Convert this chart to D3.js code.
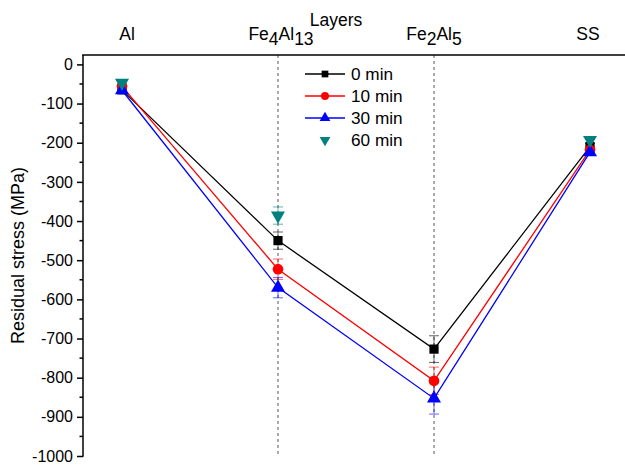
<!DOCTYPE html>
<html>
<head>
<meta charset="utf-8">
<script src="https://cdn.jsdelivr.net/npm/d3@7"></script>
<style>
  body { margin: 0; background: #fff; }
  text { font-family: "Liberation Sans", Arial, sans-serif; }
</style>
</head>
<body>
<svg id="chart" width="625" height="465"></svg>
<script>
// Layers across the joint
const layers = ["Al", "Fe4Al13", "Fe2Al5", "SS"];
// Axis labels with subscripts: [text, isSubscript]
const layerLabels = [
  [["Al", false]],
  [["Fe", false], ["4", true], ["Al", false], ["13", true]],
  [["Fe", false], ["2", true], ["Al", false], ["5", true]],
  [["SS", false]]
];
const seriesNames = ["0 min", "10 min", "30 min", "60 min"];
// Residual stress (MPa), null where not measured
const stress0 = [-65, -450, -727, -210];
const stress10 = [-56, -523, -808, -218];
const stress30 = [-66, -570, -853, -224];
const stress60 = [-47, -386, null, -193];
// Error bar half-widths (MPa)
const err0 = [8, 22, 34, 8];
const err10 = [8, 26, 35, 8];
const err30 = [8, 26, 40, 8];
const err60 = [8, 22, null, 8];
const yTicks = [0, -100, -200, -300, -400, -500, -600, -700, -800, -900, -1000];

const colors = ["#000000", "#ff0000", "#0000ff", "#008080"];
const shapes = [d3.symbolSquare, d3.symbolCircle, d3.symbolTriangle, "down"];
const drawLine = [true, true, true, false];
const values = [stress0, stress10, stress30, stress60];
const errs = [err0, err10, err30, err60];

const svg = d3.select("#chart");
const mLeft = 83, mTop = 55, mBottom = 456, mRight = 625;

const x = d3.scalePoint().domain(layers).range([122, 590]);
const y = d3.scaleLinear().domain([-1000, 24]).range([mBottom, mTop]);

// Dashed guides through the intermetallic layers
svg.selectAll("line.guide").data(["Fe4Al13", "Fe2Al5"]).enter().append("line")
  .attr("x1", d => x(d)).attr("x2", d => x(d))
  .attr("y1", mTop).attr("y2", mBottom)
  .attr("stroke", "#555").attr("stroke-width", 1).attr("stroke-dasharray", "3,3");

// Left axis with major and minor ticks
const yAxis = d3.axisLeft(y).tickValues(yTicks).tickFormat(d => String(d))
  .tickSize(6).tickSizeOuter(0).tickPadding(4);
const gy = svg.append("g").attr("transform", `translate(${mLeft},0)`).call(yAxis);
gy.select(".domain").remove();
gy.selectAll(".tick line").attr("stroke", "#000").attr("stroke-width", 1.5);
gy.selectAll(".tick text").attr("font-size", 16).attr("fill", "#000")
  .attr("font-family", "Liberation Sans, Arial, sans-serif");
const minor = d3.range(-950, 0, 100);
svg.append("g").selectAll("line").data(minor).enter().append("line")
  .attr("x1", mLeft - 3.5).attr("x2", mLeft)
  .attr("y1", d => y(d)).attr("y2", d => y(d))
  .attr("stroke", "#000").attr("stroke-width", 1.5);

// Frame: left and top edges
svg.append("line").attr("x1", mLeft).attr("x2", mLeft).attr("y1", mTop).attr("y2", y(-1000) + 0.75)
  .attr("stroke", "#000").attr("stroke-width", 1.5);
svg.append("line").attr("x1", mLeft - 0.75).attr("x2", mRight).attr("y1", mTop).attr("y2", mTop)
  .attr("stroke", "#000").attr("stroke-width", 1.5);

// Top category labels
const labelX = [127, 281, 434, 588];
layerLabels.forEach((parts, i) => {
  const t = svg.append("text").attr("x", labelX[i]).attr("y", 40)
    .attr("text-anchor", "middle").attr("font-size", 17.5).attr("fill", "#000");
  parts.forEach(([s, sub]) => {
    const ts = t.append("tspan").text(s);
    if (sub) ts.attr("baseline-shift", "-30%");
  });
});
svg.append("text").attr("x", 336).attr("y", 26).attr("text-anchor", "middle")
  .attr("font-size", 17.5).attr("fill", "#000").text("Layers");

// Y axis title
svg.append("text").attr("transform", `translate(24,${(mTop + mBottom) / 2}) rotate(-90)`)
  .attr("text-anchor", "middle").attr("font-size", 18).attr("fill", "#000")
  .text("Residual stress (MPa)");

function marker(g, shape, color, cx, cy, size) {
  if (shape === "down") {
    g.append("path").attr("d", d3.symbol(d3.symbolTriangle, size)())
      .attr("transform", `translate(${cx},${cy}) rotate(180)`).attr("fill", color);
  } else {
    g.append("path").attr("d", d3.symbol(shape, size)())
      .attr("transform", `translate(${cx},${cy})`).attr("fill", color);
  }
}
const sizes = [85, 90, 85, 85];
const legendSizes = [45, 50, 50, 50];

// Series: lines and error bars
values.forEach((vals, s) => {
  const g = svg.append("g");
  const pts = layers.map((l, i) => ({ l, v: vals[i], e: errs[s][i] })).filter(p => p.v !== null);
  if (drawLine[s]) {
    g.append("path").datum(pts)
      .attr("d", d3.line().x(p => x(p.l)).y(p => y(p.v)))
      .attr("fill", "none").attr("stroke", colors[s]).attr("stroke-width", 1.3);
  }
  pts.forEach(p => {
    const cx = x(p.l);
    const eg = g.append("g").attr("stroke", colors[s]).attr("stroke-width", 1).attr("opacity", 0.6);
    eg.append("line").attr("x1", cx).attr("x2", cx).attr("y1", y(p.v - p.e)).attr("y2", y(p.v + p.e));
    [p.v - p.e, p.v + p.e].forEach(v => eg.append("line")
      .attr("x1", cx - 5).attr("x2", cx + 5).attr("y1", y(v)).attr("y2", y(v)));
  });
});
// Markers on top
values.forEach((vals, s) => {
  const g = svg.append("g");
  layers.forEach((l, i) => {
    if (vals[i] !== null) marker(g, shapes[s], colors[s], x(l), y(vals[i]), sizes[s]);
  });
});

// Legend
const legY = [74, 96, 118, 140];
seriesNames.forEach((name, s) => {
  const g = svg.append("g");
  if (drawLine[s]) {
    g.append("line").attr("x1", 305).attr("x2", 345).attr("y1", legY[s]).attr("y2", legY[s])
      .attr("stroke", colors[s]).attr("stroke-width", 1.3);
  }
  marker(g, shapes[s], colors[s], 325, legY[s], legendSizes[s]);
  g.append("text").attr("x", 351).attr("y", legY[s] + 6).attr("font-size", 17.2)
    .attr("fill", "#000").text(name);
});
</script>
</body>
</html>
